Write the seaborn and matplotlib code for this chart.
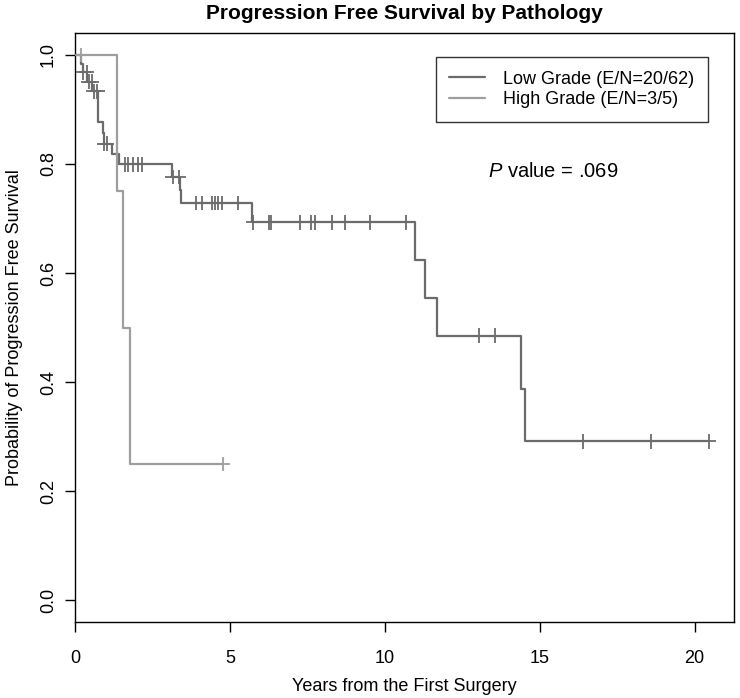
import matplotlib
matplotlib.use("Agg")
import matplotlib.pyplot as plt
import seaborn as sns
import pandas as pd
from matplotlib.lines import Line2D

# Kaplan-Meier steps (time in years, survival after step)
low_times = [0, 0.20, 0.26, 0.40, 0.56, 0.73, 0.89, 0.95, 1.18, 1.43, 3.12, 3.38, 3.42,
             5.70, 10.97, 11.31, 11.69, 14.38, 14.52, 20.45]
low_surv = [1.0, 0.984, 0.968, 0.951, 0.933, 0.876, 0.856, 0.837, 0.818, 0.799, 0.776, 0.752,
            0.728, 0.693, 0.624, 0.555, 0.485, 0.388, 0.291, 0.291]
low_cens_times = [0.27, 0.38, 0.44, 0.54, 0.60, 0.72, 0.94, 1.03,
                  1.61, 1.72, 1.88, 2.04, 2.15, 3.15, 3.36,
                  3.92, 4.09, 4.41, 4.52, 4.62, 4.76, 5.27,
                  5.74, 6.27, 6.32, 7.26, 7.63, 7.76, 8.28, 8.72, 9.52, 10.68,
                  13.03, 13.57, 16.4, 18.6, 20.45]
low_cens_surv = [0.968, 0.968, 0.951, 0.951, 0.933, 0.933, 0.837, 0.837,
                 0.799, 0.799, 0.799, 0.799, 0.799, 0.776, 0.776,
                 0.728, 0.728, 0.728, 0.728, 0.728, 0.728, 0.728,
                 0.693, 0.693, 0.693, 0.693, 0.693, 0.693, 0.693, 0.693, 0.693, 0.693,
                 0.485, 0.485, 0.291, 0.291, 0.291]

high_times = [0, 1.37, 1.56, 1.77, 4.78]
high_surv = [1.0, 0.75, 0.5, 0.25, 0.25]
high_cens_times = [0.19, 4.78]
high_cens_surv = [1.0, 0.25]

groups = ["Low Grade (E/N=20/62)", "High Grade (E/N=3/5)"]
colors = ["#6b6b6b", "#9e9e9e"]

curves = pd.concat([
    pd.DataFrame({"years": low_times, "surv": low_surv, "group": groups[0]}),
    pd.DataFrame({"years": high_times, "surv": high_surv, "group": groups[1]}),
])
cens = pd.concat([
    pd.DataFrame({"years": low_cens_times, "surv": low_cens_surv, "group": groups[0]}),
    pd.DataFrame({"years": high_cens_times, "surv": high_cens_surv, "group": groups[1]}),
])
palette = dict(zip(groups, colors))

sns.set_style("ticks")
plt.rcParams["font.family"] = ["Liberation Sans", "DejaVu Sans"]
plt.rcParams["mathtext.fontset"] = "custom"
plt.rcParams["mathtext.it"] = "Liberation Sans:italic"
plt.rcParams["mathtext.rm"] = "Liberation Sans"
for key in ["text.color", "axes.labelcolor", "xtick.color", "ytick.color", "axes.edgecolor"]:
    plt.rcParams[key] = "black"

fig = plt.figure(figsize=(7.4, 6.98), dpi=100)
ax = fig.add_axes([75 / 740, 1 - 622 / 698, (734 - 75) / 740, (622 - 33) / 698])

sns.lineplot(data=curves, x="years", y="surv", hue="group", hue_order=groups,
             palette=palette, drawstyle="steps-post", estimator=None, sort=False,
             linewidth=1.6, legend=False, ax=ax)
sns.scatterplot(data=cens, x="years", y="surv", hue="group", hue_order=groups,
                palette=palette, marker="+", s=110, linewidth=1.3, legend=False,
                ax=ax, zorder=3)

ax.set_xlim(0, 21.27)
ax.set_ylim(-0.04, 1.04)
ax.set_xticks([0, 5, 10, 15, 20])
ax.set_yticks([0, 0.2, 0.4, 0.6, 0.8, 1.0])
ax.set_yticklabels(["0.0", "0.2", "0.4", "0.6", "0.8", "1.0"], rotation=90, va="center")
ax.tick_params(axis="both", direction="out", length=7, width=1, color="black",
               labelsize=13)
ax.tick_params(axis="x", pad=13)
ax.tick_params(axis="y", pad=6)
for sp in ax.spines.values():
    sp.set_visible(True)
    sp.set_linewidth(1)

ax.set_xlabel("Years from the First Surgery", fontsize=13, labelpad=8)
ax.set_ylabel("Probability of Progression Free Survival", fontsize=13, labelpad=12)
ax.set_title("Progression Free Survival by Pathology", fontsize=15, fontweight="bold",
             pad=10)

handles = [Line2D([], [], color=c, linewidth=1.6) for c in colors]
leg = ax.legend(handles, groups, loc="upper right",
                bbox_to_anchor=(708 / 740, 1 - 57 / 698), bbox_transform=fig.transFigure,
                fontsize=13, frameon=True, fancybox=False, edgecolor="black",
                borderaxespad=0, handlelength=2.0, handletextpad=1.0,
                borderpad=0.75, labelspacing=0.2)
leg.get_frame().set_linewidth(1)

ax.text(15.42, 0.786, "$P$ value = .069", fontsize=14.5, ha="center", va="center")

fig.savefig("out.png", dpi=100)
